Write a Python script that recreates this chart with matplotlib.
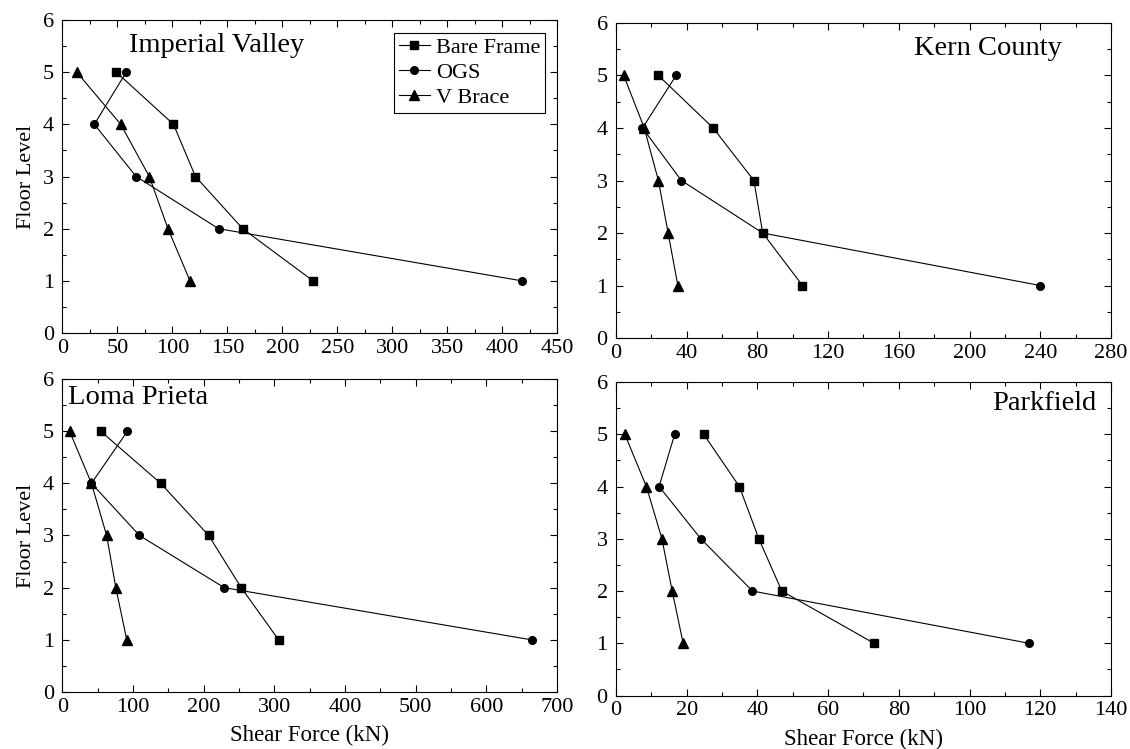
import matplotlib
matplotlib.use('Agg')
import matplotlib.pyplot as plt
from matplotlib.ticker import MultipleLocator

plt.rcParams['font.family'] = ['Liberation Serif', 'DejaVu Serif']

floors = [5, 4, 3, 2, 1]
series_names = ['Bare Frame', 'OGS', 'V Brace']
markers = ['s', 'o', '^']

# storey shear (kN) per floor, top floor first
imperial_bare = [49, 101, 121, 164, 228]
imperial_ogs = [58, 29, 67, 142, 418]
imperial_vbrace = [13, 53, 79, 96, 116]

kern_bare = [24, 55, 78, 83, 105.5]
kern_ogs = [34, 15, 37, 83, 240]
kern_vbrace = [4.4, 16, 24, 29.5, 35]

loma_bare = [54, 139, 207, 253, 306]
loma_ogs = [92, 41, 109, 229, 664]
loma_vbrace = [10, 41, 62.5, 75.5, 91]

park_bare = [24.8, 34.9, 40.4, 46.9, 73]
park_ogs = [16.6, 12.2, 24, 38.6, 116.8]
park_vbrace = [2.5, 8.6, 13, 15.9, 19]

panels = [
    ('Imperial Valley', [imperial_bare, imperial_ogs, imperial_vbrace], 450, 50,
     [0.0553, 0.5554, 0.4376, 0.4179], (0.134, 0.92), 'left'),
    ('Kern County', [kern_bare, kern_ogs, kern_vbrace], 280, 40,
     [0.5451, 0.5487, 0.4381, 0.4206], (0.90, 0.92), 'right'),
    ('Loma Prieta', [loma_bare, loma_ogs, loma_vbrace], 700, 100,
     [0.0553, 0.0761, 0.4376, 0.4179], (0.012, 0.94), 'left'),
    ('Parkfield', [park_bare, park_ogs, park_vbrace], 140, 20,
     [0.5451, 0.0714, 0.4381, 0.4186], (0.97, 0.93), 'right'),
]

fig = plt.figure(figsize=(11.3, 7.49), dpi=100)

for idx, (name, data, xmax, xstep, rect, tpos, ha) in enumerate(panels):
    ax = fig.add_axes(rect)
    for vals, lab, mk in zip(data, series_names, markers):
        ax.plot(vals, floors, color='black', lw=0.8, marker=mk, ms=6.5 if mk == '^' else 5.5,
                label=lab)
    ax.set_xlim(0, xmax)
    ax.set_ylim(0, 6)
    ax.xaxis.set_major_locator(MultipleLocator(xstep))
    ax.xaxis.set_minor_locator(MultipleLocator(xstep / 2))
    ax.yaxis.set_major_locator(MultipleLocator(1))
    ax.yaxis.set_minor_locator(MultipleLocator(0.5))
    ax.tick_params(which='both', direction='in', top=True, right=True, labelsize=16)
    ax.tick_params(axis='x', pad=4)
    ax.tick_params(axis='y', pad=6)
    ax.tick_params(which='major', length=5, width=0.8)
    ax.tick_params(which='minor', length=3, width=0.8)
    for sp in ax.spines.values():
        sp.set_linewidth(0.8)
    ax.text(tpos[0], tpos[1], name, transform=ax.transAxes, ha=ha, va='center', fontsize=20.5)
    if idx % 2 == 0:
        ax.set_ylabel('Floor Level', fontsize=16, labelpad=5)
    if idx >= 2:
        ax.set_xlabel('Shear Force (kN)', fontsize=16.5, labelpad=6)
    if idx == 0:
        leg = ax.legend(loc='upper right', bbox_to_anchor=(0.976, 0.958), fontsize=16,
                        handlelength=1.4, handletextpad=0.3, borderpad=0.2,
                        labelspacing=0.2, borderaxespad=0, fancybox=False, framealpha=1)
        leg.get_frame().set_edgecolor('black')
        leg.get_frame().set_linewidth(0.8)

fig.savefig('out.png', dpi=100)
